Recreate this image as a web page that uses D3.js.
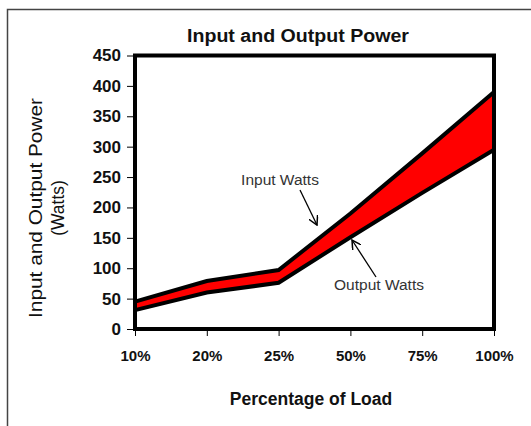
<!DOCTYPE html>
<html>
<head>
<meta charset="utf-8">
<script src="https://cdn.jsdelivr.net/npm/d3@7"></script>
<style>
body{margin:0;background:#fff;}
svg{font-family:"Liberation Sans",Arial,sans-serif;}
</style>
</head>
<body>
<div id="chart"></div>
<script>
// data
const loads = ["10%","20%","25%","50%","75%","100%"];
const inputWatts = [45, 79, 97, 190, 289, 390];
const outputWatts = [31, 60, 76, 151, 224, 295];
const yTicks = [0,50,100,150,200,250,300,350,400,450];

const W = 531, H = 426;
const svg = d3.select("#chart").append("svg")
  .attr("width", W).attr("height", H);

// outer frame
svg.append("rect")
  .attr("x",7.5).attr("y",9.5)
  .attr("width",W+20).attr("height",H+20)
  .attr("fill","none").attr("stroke","#444").attr("stroke-width",1.5);

const x = d3.scalePoint().domain(loads).range([135, 494]);
const y = d3.scaleLinear().domain([0,450]).range([329, 55.5]);

// red band
const area = d3.area()
  .x((d,i)=>x(loads[i]))
  .y0((d,i)=>y(outputWatts[i]))
  .y1((d,i)=>y(inputWatts[i]));
svg.append("path")
  .datum(inputWatts)
  .attr("d", area)
  .attr("fill","#ff0000");

const line = d3.line().x((d,i)=>x(loads[i])).y(d=>y(d));
[inputWatts, outputWatts].forEach(s=>{
  svg.append("path")
    .datum(s)
    .attr("d", line)
    .attr("fill","none")
    .attr("stroke","#000")
    .attr("stroke-width",4)
    .attr("stroke-linejoin","miter");
});

// plot border
svg.append("rect")
  .attr("x",x(loads[0])).attr("y",y(450))
  .attr("width",x(loads[5])-x(loads[0]))
  .attr("height",y(0)-y(450))
  .attr("fill","none").attr("stroke","#000").attr("stroke-width",4);

// axes
const yAxis = svg.append("g")
  .attr("transform","translate("+(x(loads[0])-2)+",0)")
  .call(d3.axisLeft(y).tickValues(yTicks).tickSize(6).tickPadding(6));
yAxis.select(".domain").remove();
yAxis.selectAll("line").attr("stroke","#000");
yAxis.selectAll("text").attr("font-size",17).attr("font-weight","bold").attr("fill","#111")
  .attr("font-family","Liberation Sans, Arial, sans-serif");

const xAxis = svg.append("g")
  .attr("transform","translate(0,"+(y(0)+2)+")")
  .call(d3.axisBottom(x).tickSize(5).tickPadding(14));
xAxis.select(".domain").remove();
xAxis.selectAll("line").attr("stroke","#000");
xAxis.selectAll("text").attr("font-size",15).attr("font-weight","bold").attr("fill","#111")
  .attr("font-family","Liberation Sans, Arial, sans-serif");

// titles
svg.append("text")
  .attr("x",298).attr("y",42)
  .attr("text-anchor","middle")
  .attr("font-size",18).attr("font-weight","bold").attr("fill","#111")
  .attr("textLength",222).attr("lengthAdjust","spacingAndGlyphs")
  .text("Input and Output Power");

svg.append("text")
  .attr("x",311).attr("y",405)
  .attr("text-anchor","middle")
  .attr("font-size",17.5).attr("font-weight","bold").attr("fill","#111")
  .text("Percentage of Load");

const yt = svg.append("text")
  .attr("transform","translate(42,208) rotate(-90)")
  .attr("text-anchor","middle")
  .attr("font-size",17.5).attr("fill","#111");
yt.append("tspan").attr("x",0).attr("dy",0)
  .attr("textLength",220).attr("lengthAdjust","spacingAndGlyphs")
  .text("Input and Output Power");
yt.append("tspan").attr("x",0).attr("dy",22).text("(Watts)");

// annotations
svg.append("defs").append("marker")
  .attr("id","arr").attr("viewBox","0 0 10 10")
  .attr("refX",9).attr("refY",5)
  .attr("markerWidth",10).attr("markerHeight",10)
  .attr("markerUnits","userSpaceOnUse")
  .attr("orient","auto")
  .append("path").attr("d","M0,0 L9,5 L0,10")
  .attr("fill","none").attr("stroke","#000").attr("stroke-width",1.5);

svg.append("text").attr("x",280).attr("y",185)
  .attr("text-anchor","middle").attr("font-size",15.5).attr("fill","#333")
  .text("Input Watts");
svg.append("line")
  .attr("x1",300).attr("y1",190).attr("x2",317).attr("y2",225)
  .attr("stroke","#000").attr("stroke-width",1.3).attr("marker-end","url(#arr)");

svg.append("text").attr("x",379).attr("y",290)
  .attr("text-anchor","middle").attr("font-size",15.5).attr("fill","#333")
  .text("Output Watts");
svg.append("line")
  .attr("x1",376).attr("y1",277).attr("x2",352).attr("y2",240)
  .attr("stroke","#000").attr("stroke-width",1.3).attr("marker-end","url(#arr)");
</script>
</body>
</html>
